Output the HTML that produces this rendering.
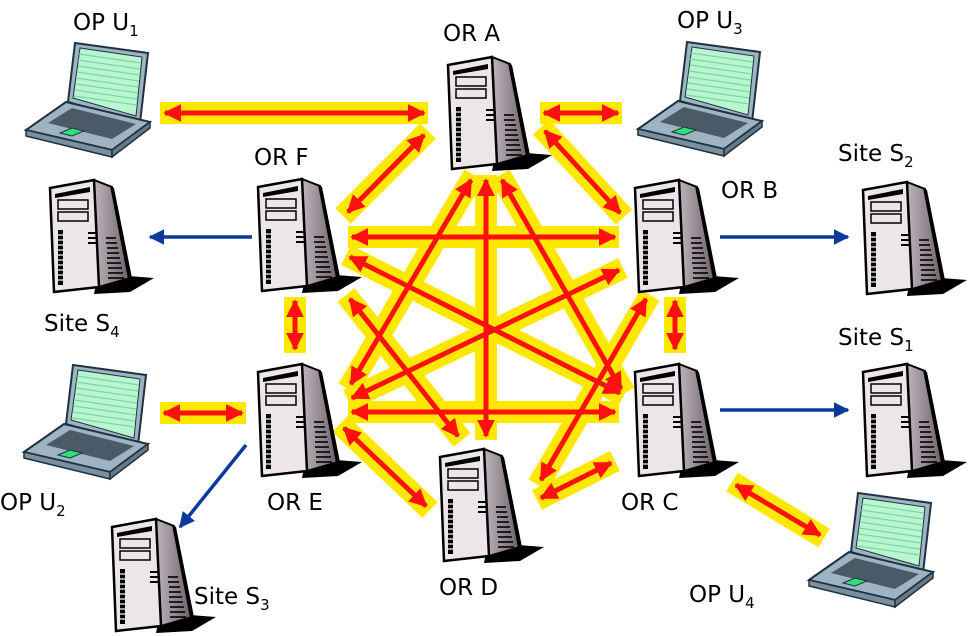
<!DOCTYPE html>
<html><head><meta charset="utf-8"><style>
html,body{margin:0;padding:0;background:#fff;}
svg{display:block;}
text{font-family:"DejaVu Sans","Liberation Sans",sans-serif;font-size:23px;fill:#000;}
</style></head><body>
<svg width="968" height="636" viewBox="0 0 968 636" xmlns="http://www.w3.org/2000/svg">
<defs>
<linearGradient id="sg" x1="0" x2="1" y1="0" y2="0"><stop offset="0" stop-color="#c0b4bc"/><stop offset="1" stop-color="#6a6068"/></linearGradient>
<g id="srv">
 <polygon points="46,106 78,98 104,100 80,114 44,116" fill="#000"/>
 <polygon points="44,2 62,9 80,100 49,109" fill="url(#sg)" stroke="#000" stroke-width="2"/>
 <polygon points="60,8 64,10 82,100 78,101" fill="#000"/>
 <polygon points="0,10 44,2 49,109 4,114" fill="#ece6ea" stroke="#000" stroke-width="2.5"/>
 <polygon points="5,16 40,9 40,14 5,20" fill="#000"/>
 <rect x="8" y="22" width="30" height="9" fill="none" stroke="#000" stroke-width="1.5"/>
 <rect x="8" y="34" width="30" height="9" fill="none" stroke="#000" stroke-width="1.5"/>
 <rect x="8" y="52" width="5" height="55" fill="#000"/>
 <g stroke="#fff" stroke-width="1.2"><line x1="8" y1="57" x2="13" y2="57"/><line x1="8" y1="62" x2="13" y2="62"/><line x1="8" y1="67" x2="13" y2="67"/><line x1="8" y1="72" x2="13" y2="72"/><line x1="8" y1="77" x2="13" y2="77"/><line x1="8" y1="82" x2="13" y2="82"/><line x1="8" y1="87" x2="13" y2="87"/><line x1="8" y1="92" x2="13" y2="92"/><line x1="8" y1="97" x2="13" y2="97"/><line x1="8" y1="102" x2="13" y2="102"/></g>
 <g stroke="#000" stroke-width="2"><line x1="38" y1="55" x2="46" y2="55"/><line x1="38" y1="60" x2="46" y2="60"/><line x1="38" y1="65" x2="46" y2="65"/></g>
 <g stroke="#000" stroke-width="1.6"><line x1="56" y1="60" x2="66" y2="60"/><line x1="56" y1="65" x2="67" y2="65"/><line x1="57" y1="70" x2="68" y2="70"/><line x1="57" y1="75" x2="69" y2="75"/><line x1="57" y1="80" x2="70" y2="80"/><line x1="57" y1="85" x2="71" y2="85"/><line x1="58" y1="90" x2="72" y2="90"/><line x1="58" y1="95" x2="73" y2="95"/><line x1="58" y1="100" x2="74" y2="100"/></g>
</g>
<g id="lap">
 <polygon points="55,3 128,13 120,83 48,62" fill="#9fb4c2" stroke="#1e3240" stroke-width="2"/>
 <polygon points="60,8 122,17 116,76 53,58" fill="#b8f5d0" stroke="#1e3240" stroke-width="1"/>
 <g stroke="#7ad8a4" stroke-width="1.2"><line x1="59" y1="14" x2="121" y2="23"/><line x1="58" y1="20" x2="120" y2="29"/><line x1="58" y1="26" x2="120" y2="35"/><line x1="57" y1="32" x2="119" y2="41"/><line x1="56" y1="38" x2="118" y2="47"/><line x1="56" y1="44" x2="118" y2="53"/><line x1="55" y1="50" x2="117" y2="59"/><line x1="54" y1="56" x2="117" y2="65"/></g>
 <polygon points="6,90 46,62 130,82 92,110" fill="#9fb4c2" stroke="#1e3240" stroke-width="2"/>
 <polygon points="6,90 92,110 92,117 6,96" fill="#7a909e" stroke="#1e3240" stroke-width="1.5"/>
 <polygon points="92,110 130,82 130,88 92,117" fill="#64798a" stroke="#1e3240" stroke-width="1.5"/>
 <polygon points="28,83 52,68 116,84 92,99" fill="#4a5a66"/>
 <polygon points="40,93 52,88 64,91 52,96" fill="#2ee07a" stroke="#1e3240" stroke-width="1"/>
</g>
<marker id="ra" viewBox="0 0 10 10" refX="9" refY="5" markerWidth="3.6" markerHeight="3.6" orient="auto-start-reverse"><path d="M0,0 L10,5 L0,10 z" fill="#ff1010"/></marker>
<marker id="ba" viewBox="0 0 10 10" refX="9" refY="5" markerWidth="4.5" markerHeight="4.5" orient="auto"><path d="M0,0 L10,5 L0,10 z" fill="#0a3a9e"/></marker>
</defs>

<g stroke="#ffe800" stroke-width="22" stroke-linecap="butt" fill="none">
<line x1="160" y1="113" x2="428" y2="113"/>
<line x1="540" y1="113" x2="622" y2="113"/>
<line x1="428" y1="131" x2="343" y2="216"/>
<line x1="541" y1="127" x2="624" y2="217"/>
<line x1="348" y1="237" x2="619" y2="237"/>
<line x1="346" y1="255" x2="624" y2="395"/>
<line x1="346" y1="295" x2="462" y2="440"/>
<line x1="474" y1="175" x2="348" y2="389"/>
<line x1="486" y1="175" x2="486" y2="440"/>
<line x1="500" y1="175" x2="625" y2="393"/>
<line x1="623" y1="268" x2="348" y2="400"/>
<line x1="650" y1="295" x2="538" y2="485"/>
<line x1="348" y1="412" x2="619" y2="412"/>
<line x1="340" y1="424" x2="430" y2="510"/>
<line x1="615" y1="461" x2="537" y2="500"/>
<line x1="295" y1="297" x2="295" y2="353"/>
<line x1="675" y1="297" x2="675" y2="353"/>
<line x1="160" y1="413" x2="246" y2="413"/>
<line x1="732" y1="482" x2="824" y2="538"/>
</g>
<g stroke="#ff1010" stroke-width="5" fill="none" marker-start="url(#ra)" marker-end="url(#ra)">
<line x1="165" y1="113" x2="424" y2="113"/>
<line x1="544" y1="113" x2="618" y2="113"/>
<line x1="424" y1="135" x2="348" y2="212"/>
<line x1="545" y1="131" x2="620" y2="213"/>
<line x1="352" y1="237" x2="615" y2="237"/>
<line x1="350" y1="257" x2="620" y2="393"/>
<line x1="350" y1="299" x2="458" y2="436"/>
<line x1="471" y1="180" x2="351" y2="384"/>
<line x1="486" y1="180" x2="486" y2="436"/>
<line x1="502" y1="180" x2="621" y2="389"/>
<line x1="619" y1="270" x2="352" y2="398"/>
<line x1="646" y1="299" x2="541" y2="480"/>
<line x1="352" y1="412" x2="615" y2="412"/>
<line x1="344" y1="428" x2="426" y2="506"/>
<line x1="611" y1="463" x2="541" y2="498"/>
<line x1="295" y1="301" x2="295" y2="349"/>
<line x1="675" y1="301" x2="675" y2="349"/>
<line x1="164" y1="413" x2="242" y2="413"/>
<line x1="736" y1="485" x2="820" y2="535"/>
</g>
<g stroke="#0a3a9e" stroke-width="3.5" fill="none" marker-end="url(#ba)">
<line x1="252" y1="237" x2="150" y2="237"/>
<line x1="720" y1="237" x2="848" y2="237"/>
<line x1="720" y1="410" x2="848" y2="410"/>
<line x1="246" y1="445" x2="180" y2="527"/>
</g>

<use href="#srv" x="448" y="55"/>
<use href="#srv" x="258" y="177"/>
<use href="#srv" x="635" y="178"/>
<use href="#srv" x="863" y="180"/>
<use href="#srv" x="50" y="178"/>
<use href="#srv" x="258" y="362"/>
<use href="#srv" x="635" y="362"/>
<use href="#srv" x="863" y="362"/>
<use href="#srv" x="440" y="447"/>
<use href="#srv" x="112" y="517"/>

<use href="#lap" x="20" y="40"/>
<use href="#lap" x="632" y="39"/>
<use href="#lap" x="18" y="362"/>
<use href="#lap" x="803" y="490"/>

<text x="73" y="30">OP U<tspan font-size="15" dy="6">1</tspan></text>
<text x="443" y="41">OR A</text>
<text x="677" y="28">OP U<tspan font-size="15" dy="6">3</tspan></text>
<text x="254" y="165">OR F</text>
<text x="838" y="161">Site S<tspan font-size="15" dy="6">2</tspan></text>
<text x="721" y="198">OR B</text>
<text x="44" y="331">Site S<tspan font-size="15" dy="6">4</tspan></text>
<text x="838" y="345">Site S<tspan font-size="15" dy="6">1</tspan></text>
<text x="0" y="510">OP U<tspan font-size="15" dy="6">2</tspan></text>
<text x="267" y="510">OR E</text>
<text x="621" y="510">OR C</text>
<text x="194" y="604">Site S<tspan font-size="15" dy="6">3</tspan></text>
<text x="439" y="595">OR D</text>
<text x="689" y="602">OP U<tspan font-size="15" dy="6">4</tspan></text>
</svg>
</body></html>
